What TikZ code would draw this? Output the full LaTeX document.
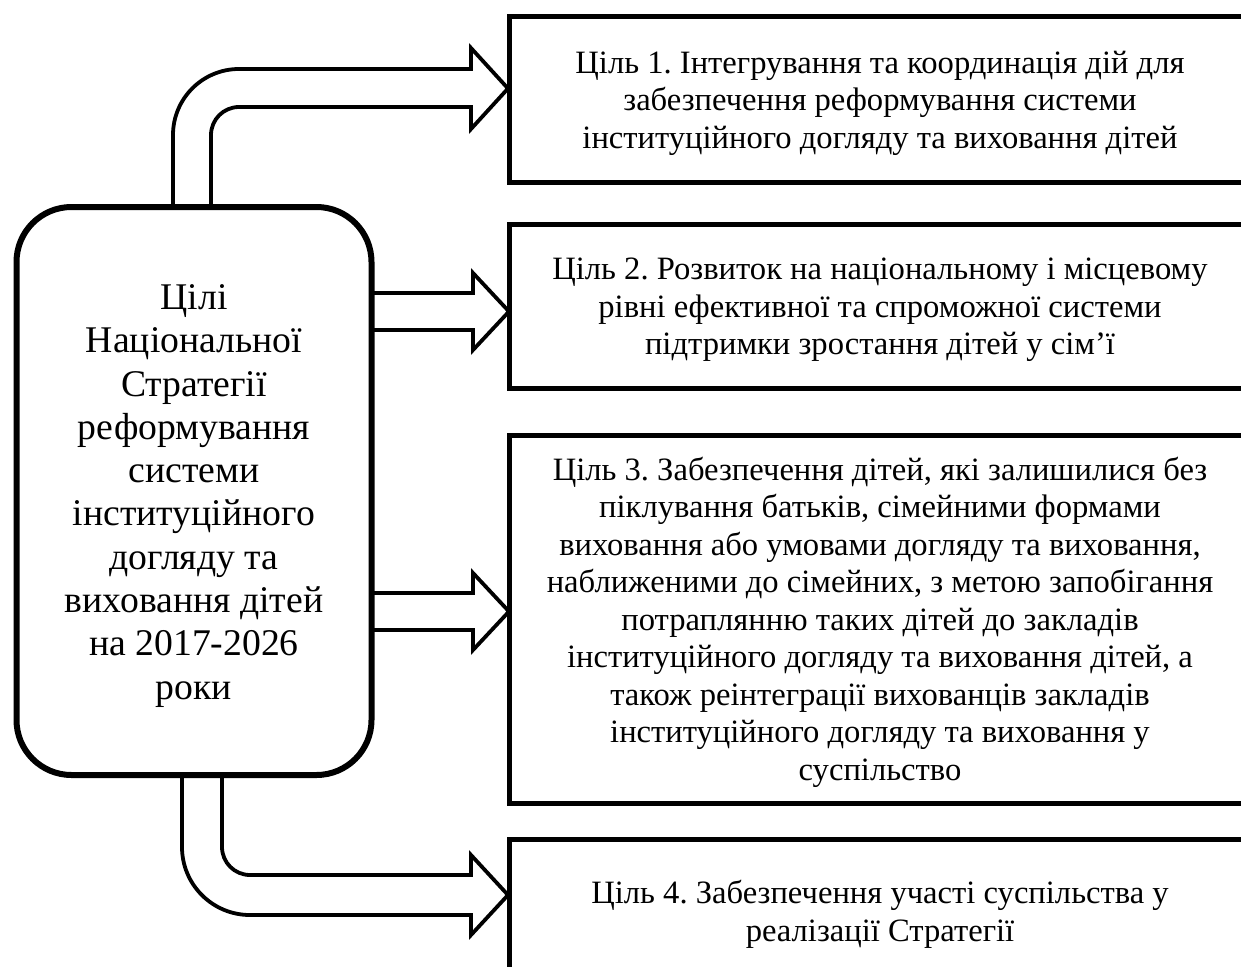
\documentclass[tikz,border=0pt]{standalone}
\usepackage{fontspec}
\setmainfont{Liberation Serif}
\newcommand{\mytopstrut}{\rule{0pt}{0.92em}}
\begin{document}
\frenchspacing
\begin{tikzpicture}[x=1pt,y=1pt,
  mainbox/.style={draw, line width=6pt, rounded corners=55pt, minimum width=355pt, minimum height=568pt, align=center, inner sep=0pt, font=\fontsize{37.7pt}{43.3pt}\selectfont},
  goalbox/.style={draw, line width=5pt, minimum width=742pt, align=center, inner sep=0pt, font=\fontsize{32.6pt}{37.5pt}\selectfont},
  blockarrow/.style={draw, line width=3.8pt, line join=miter}]
\useasboundingbox (0,0) rectangle (1241,-966);
\clip (0,0) rectangle (1241,-966);

\node[mainbox] (m) at (194,-491) {\mytopstrut Цілі\\Національної\\Стратегії\\реформування\\системи\\інституційного\\догляду та\\виховання дітей\\на 2017-2026\\роки};

\node[goalbox, minimum height=165pt] (g1) at (880,-99.5) {\mytopstrut Ціль 1. Інтегрування та координація дій для\\забезпечення реформування системи\\інституційного догляду та виховання дітей};
\node[goalbox, minimum height=164pt] (g2) at (880,-306) {\mytopstrut Ціль 2. Розвиток на національному і місцевому\\рівні ефективної та спроможної системи\\підтримки зростання дітей у сім’ї};
\node[goalbox, minimum height=368pt] (g3) at (880,-619) {\mytopstrut Ціль 3. Забезпечення дітей, які залишилися без\\піклування батьків, сімейними формами\\виховання або умовами догляду та виховання,\\наближеними до сімейних, з метою запобігання\\потраплянню таких дітей до закладів\\інституційного догляду та виховання дітей, а\\також реінтеграції вихованців закладів\\інституційного догляду та виховання у\\суспільство};
\node[goalbox, minimum height=144pt] (g4) at (880,-911) {\mytopstrut Ціль 4. Забезпечення участі суспільства у\\реалізації Стратегії};

% arrow to goal 1
\draw[blockarrow] (173,-207) -- (173,-135) arc[start angle=180,end angle=90,radius=66] -- (471,-69) -- (471,-48) -- (508,-88.5) -- (471,-129) -- (471,-107) -- (239,-107) arc[start angle=90,end angle=180,radius=28] -- (211,-207);
% arrow to goal 2
\draw[blockarrow] (373,-293) -- (473,-293) -- (473,-273) -- (509,-311.5) -- (473,-350) -- (473,-330) -- (373,-330);
% arrow to goal 3
\draw[blockarrow] (373,-593) -- (473,-593) -- (473,-573) -- (509,-611.5) -- (473,-650) -- (473,-630) -- (373,-630);
% arrow to goal 4
\draw[blockarrow] (182,-774) -- (182,-847) arc[start angle=180,end angle=270,radius=68] -- (471,-915) -- (471,-935) -- (508,-895) -- (471,-855) -- (471,-875) -- (250,-875) arc[start angle=270,end angle=180,radius=28] -- (222,-774);
\end{tikzpicture}
\end{document}
